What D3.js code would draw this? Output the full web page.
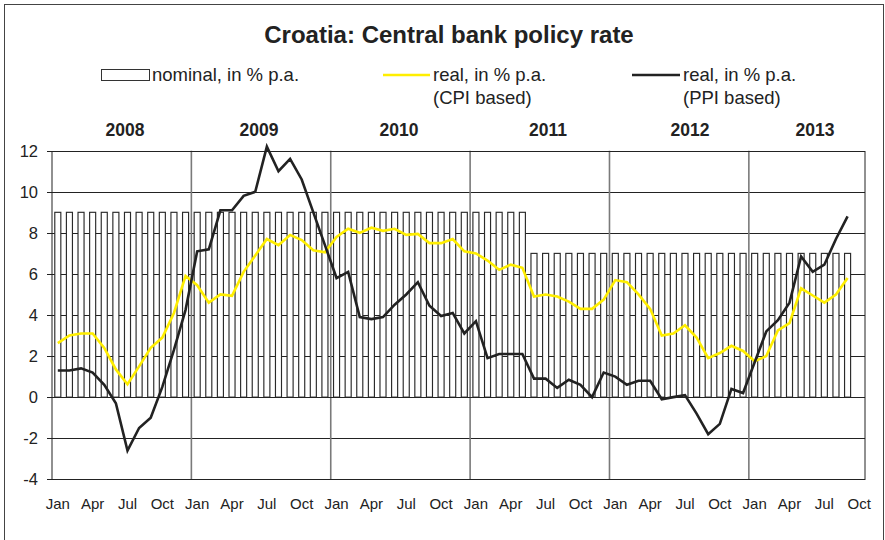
<!DOCTYPE html>
<html><head><meta charset="utf-8">
<script src="https://cdn.jsdelivr.net/npm/d3@7"></script>
<style>
html,body{margin:0;padding:0;background:#fff;}
svg{display:block;font-family:"Liberation Sans",Arial,sans-serif;}
</style></head>
<body>
<svg id="chart" width="885" height="540"></svg>
<script>
// ---- data ----
const monthNames = ["Jan","Feb","Mar","Apr","May","Jun","Jul","Aug","Sep","Oct","Nov","Dec"];
const years = [2008, 2009, 2010, 2011, 2012, 2013];
const tickMonths = ["Jan","Apr","Jul","Oct"];
const yTicks = [-4, -2, 0, 2, 4, 6, 8, 10, 12];
// nominal policy rate, Jan 2008 .. Sep 2013
const nominal = [9,9,9,9,9,9,9,9,9,9,9,9,
                 9,9,9,9,9,9,9,9,9,9,9,9,
                 9,9,9,9,9,9,9,9,9,9,9,9,
                 9,9,9,9,9,7,7,7,7,7,7,7,
                 7,7,7,7,7,7,7,7,7,7,7,7,
                 7,7,7,7,7,7,7,7,7];
// real rate, CPI based
const realCPI = [2.63,3.0,3.1,3.1,2.4,1.35,0.63,1.5,2.4,2.9,4.1,5.9,
                 5.45,4.6,5.0,4.93,6.1,6.9,7.7,7.4,7.9,7.65,7.15,7.05,
                 7.8,8.2,8.0,8.25,8.1,8.2,7.9,7.95,7.5,7.5,7.7,7.1,
                 7.0,6.65,6.2,6.45,6.3,4.9,5.0,4.9,4.65,4.3,4.3,4.75,
                 5.7,5.6,5.0,4.3,3.0,3.1,3.5,2.9,1.9,2.15,2.5,2.25,
                 1.75,2.0,3.25,3.6,5.3,4.95,4.6,5.0,5.8];
// real rate, PPI based
const realPPI = [1.3,1.3,1.4,1.2,0.6,-0.3,-2.6,-1.5,-1.0,0.5,2.3,4.25,
                 7.1,7.2,9.1,9.1,9.8,10.0,12.2,11.0,11.6,10.6,9.0,7.4,
                 5.8,6.1,3.9,3.8,3.9,4.5,5.0,5.6,4.45,3.95,4.1,3.1,
                 3.7,1.9,2.1,2.1,2.1,0.9,0.9,0.45,0.85,0.6,0.0,1.2,
                 1.0,0.6,0.8,0.8,-0.1,0.0,0.1,-0.8,-1.8,-1.3,0.4,0.2,
                 1.7,3.2,3.75,4.6,6.85,6.1,6.45,7.7,8.8];

// categories: Jan 2008 .. Oct 2013
const categories = [];
years.forEach(y => monthNames.forEach(m => categories.push(m + " " + y)));
categories.splice(70);

// ---- layout ----
const L = 52, R = 865, T = 150.7, B = 479.3;
const yearLabelX = [125, 259, 399, 548, 690, 815];

const svg = d3.select("#chart");
const x = d3.scaleBand().domain(categories).range([L, R]).paddingInner(0.48).paddingOuter(0.24);
const xs = d3.scaleBand().domain(categories).range([L, R]);
const y = d3.scaleLinear().domain([-4, 12]).range([B, T]);

// outer frame
svg.append("rect").attr("x", 4.5).attr("y", 4.5).attr("width", 879).attr("height", 545)
  .attr("fill", "none").attr("stroke", "#444").attr("stroke-width", 1);

// title
svg.append("text").attr("x", 449).attr("y", 43).attr("text-anchor", "middle")
  .attr("font-size", 24).attr("font-weight", "bold").attr("fill", "#222")
  .text("Croatia: Central bank policy rate");

// horizontal gridlines
svg.append("g").selectAll("line").data(yTicks).join("line")
  .attr("x1", L - 5).attr("x2", R).attr("y1", d => Math.round(y(d)) + 0.5).attr("y2", d => Math.round(y(d)) + 0.5)
  .attr("stroke", "#222").attr("stroke-width", 1);

// vertical year lines
svg.append("g").selectAll("line").data(years.slice(1)).join("line")
  .attr("x1", d => xs("Jan " + d)).attr("x2", d => xs("Jan " + d))
  .attr("y1", T).attr("y2", B)
  .attr("stroke", "#7a7a7a").attr("stroke-width", 1.6);

// bars (nominal)
svg.append("g").selectAll("rect").data(nominal).join("rect")
  .attr("x", (d, i) => x(categories[i]))
  .attr("width", x.bandwidth())
  .attr("y", d => y(d))
  .attr("height", d => y(0) - y(d))
  .attr("fill", "#fff").attr("stroke", "#2a2a2a").attr("stroke-width", 1.15);

// zero line and plot border
svg.append("line").attr("x1", L).attr("x2", R).attr("y1", Math.round(y(0)) + 0.5).attr("y2", Math.round(y(0)) + 0.5)
  .attr("stroke", "#222");
svg.append("rect").attr("x", L).attr("y", Math.round(T) + 0.5).attr("width", R - L).attr("height", Math.round(B) - Math.round(T))
  .attr("fill", "none").attr("stroke", "#222");

// lines
const line = d3.line().x((d, i) => xs(categories[i]) + xs.bandwidth() / 2).y(d => y(d));
svg.append("path").datum(realCPI).attr("d", line).attr("fill", "none")
  .attr("stroke", "#FFEE00").attr("stroke-width", 2.6).attr("stroke-linejoin", "miter");
svg.append("path").datum(realPPI).attr("d", line).attr("fill", "none")
  .attr("stroke", "#222").attr("stroke-width", 2.6).attr("stroke-linejoin", "miter");

// y axis labels
svg.append("g").selectAll("text").data(yTicks).join("text")
  .attr("x", 38).attr("y", d => y(d)).attr("dy", "0.36em").attr("text-anchor", "end")
  .attr("font-size", 16.5).attr("fill", "#222").text(d => d);

// x axis labels
svg.append("g").selectAll("text").data(categories.filter(c => tickMonths.includes(c.split(" ")[0]))).join("text")
  .attr("x", d => xs(d) + xs.bandwidth() / 2).attr("y", 509).attr("text-anchor", "middle")
  .attr("font-size", 15).attr("fill", "#222").text(d => d.split(" ")[0]);

// year labels
svg.append("g").selectAll("text").data(years).join("text")
  .attr("x", (d, i) => yearLabelX[i]).attr("y", 136).attr("text-anchor", "middle")
  .attr("font-size", 17.5).attr("font-weight", "bold").attr("fill", "#222").text(d => d);

// legend
const lg = svg.append("g").attr("font-size", 18.5).attr("fill", "#222");
lg.append("rect").attr("x", 101.5).attr("y", 69.5).attr("width", 48).attr("height", 11)
  .attr("fill", "#fff").attr("stroke", "#333");
lg.append("text").attr("x", 152).attr("y", 81).text("nominal, in % p.a.");
lg.append("line").attr("x1", 383).attr("x2", 430).attr("y1", 75).attr("y2", 75)
  .attr("stroke", "#FFEE00").attr("stroke-width", 2.6);
lg.append("text").attr("x", 433).attr("y", 81).text("real, in % p.a.");
lg.append("text").attr("x", 433).attr("y", 104).text("(CPI based)");
lg.append("line").attr("x1", 632).attr("x2", 680).attr("y1", 75).attr("y2", 75)
  .attr("stroke", "#222").attr("stroke-width", 2.6);
lg.append("text").attr("x", 683).attr("y", 81).text("real, in % p.a.");
lg.append("text").attr("x", 683).attr("y", 104).text("(PPI based)");
</script>
</body></html>
